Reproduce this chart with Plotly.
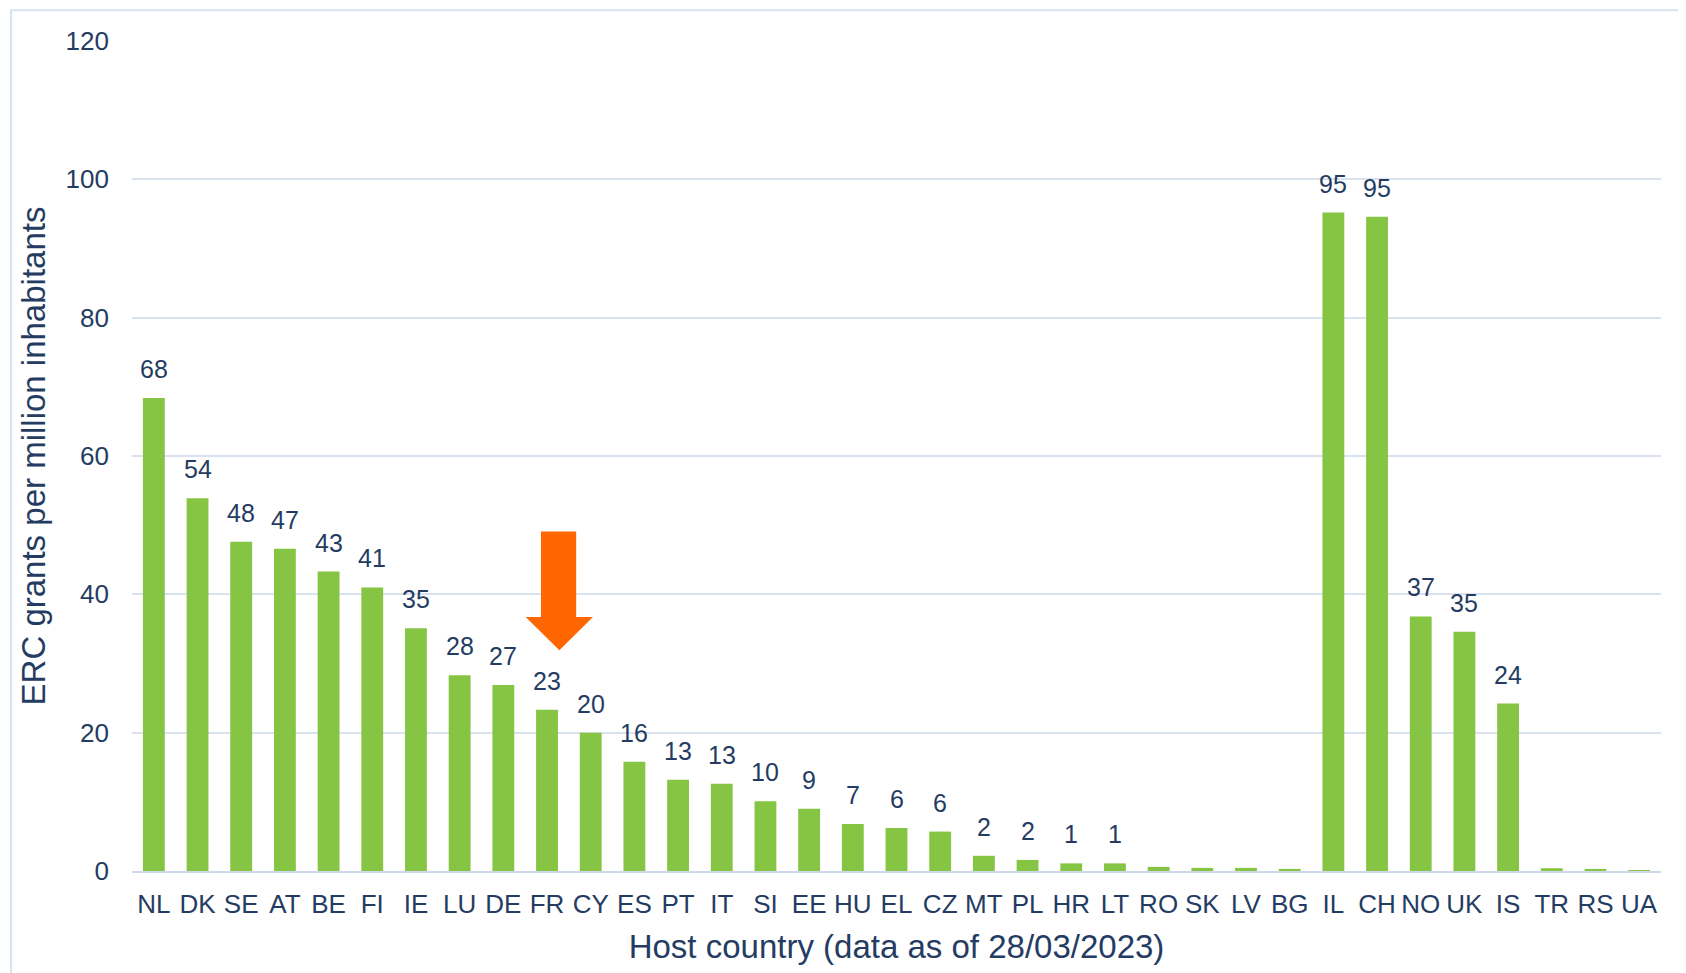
import plotly.graph_objects as go

countries = ["NL", "DK", "SE", "AT", "BE", "FI", "IE", "LU", "DE", "FR", "CY", "ES", "PT", "IT",
             "SI", "EE", "HU", "EL", "CZ", "MT", "PL", "HR", "LT", "RO", "SK", "LV", "BG",
             "IL", "CH", "NO", "UK", "IS", "TR", "RS", "UA"]
grants_per_million = [68.4, 53.9, 47.6, 46.6, 43.3, 41.0, 35.1, 28.3, 26.9, 23.3, 20.0, 15.8, 13.2, 12.6,
                      10.1, 9.0, 6.8, 6.2, 5.7, 2.2, 1.6, 1.1, 1.1, 0.6, 0.45, 0.45, 0.3,
                      95.2, 94.6, 36.8, 34.6, 24.2, 0.4, 0.3, 0.1]
value_labels = ["68", "54", "48", "47", "43", "41", "35", "28", "27", "23", "20", "16", "13", "13",
                "10", "9", "7", "6", "6", "2", "2", "1", "1", "", "", "", "",
                "95", "95", "37", "35", "24", "", "", ""]
y_ticks = [0, 20, 40, 60, 80, 100, 120]

TEXT = "#253c62"
FONT = "Liberation Sans, Arial, sans-serif"

fig = go.Figure()
fig.add_trace(go.Bar(
    x=countries, y=grants_per_million,
    marker=dict(color="#86c443", line=dict(width=0)),
    hoverinfo="x+y",
))

for c, v, lab in zip(countries, grants_per_million, value_labels):
    if lab:
        fig.add_annotation(x=c, y=v, text=lab, showarrow=False, yanchor="bottom",
                           yshift=13, font=dict(size=25, color=TEXT, family=FONT))

# orange arrow pointing at FR (paper coordinates)
arrow_path = ("M 0.2675 0.409 L 0.2905 0.409 L 0.2905 0.306 L 0.3015 0.306 "
              "L 0.2795 0.266 L 0.2575 0.306 L 0.2675 0.306 Z")
fig.add_shape(type="path", xref="paper", yref="paper", path=arrow_path,
              fillcolor="#ff6600", line=dict(width=0), layer="above")

# light frame around chart
fig.add_shape(type="rect", xref="paper", yref="paper",
              x0=-0.0791, x1=1.05, y0=-0.3, y1=1.037,
              line=dict(color="#d6e2f1", width=2), fillcolor="rgba(0,0,0,0)", layer="below")

fig.update_layout(
    width=1678, height=965,
    margin=dict(l=124, r=25, t=33, b=102),
    paper_bgcolor="white", plot_bgcolor="white",
    bargap=0.5,
    showlegend=False,
    font=dict(family=FONT, color=TEXT, size=26),
    xaxis=dict(
        type="category",
        showgrid=False,
        showline=True, linecolor="#cdd8ea", linewidth=2,
        ticks="", tickfont=dict(size=26, color=TEXT),
        ticklabelstandoff=9,
        title=dict(text="Host country (data as of 28/03/2023)",
                   font=dict(size=33, color=TEXT), standoff=17),
    ),
    yaxis=dict(
        range=[0, 120],
        tickvals=y_ticks,
        showgrid=True, gridcolor="#d9e2ef", gridwidth=2,
        zeroline=False, showline=False,
        ticks="", tickfont=dict(size=26, color=TEXT),
        ticklabelstandoff=22,
        title=dict(text="ERC grants per million inhabitants",
                   font=dict(size=33, color=TEXT), standoff=10),
    ),
)

fig.write_html("out.html")
